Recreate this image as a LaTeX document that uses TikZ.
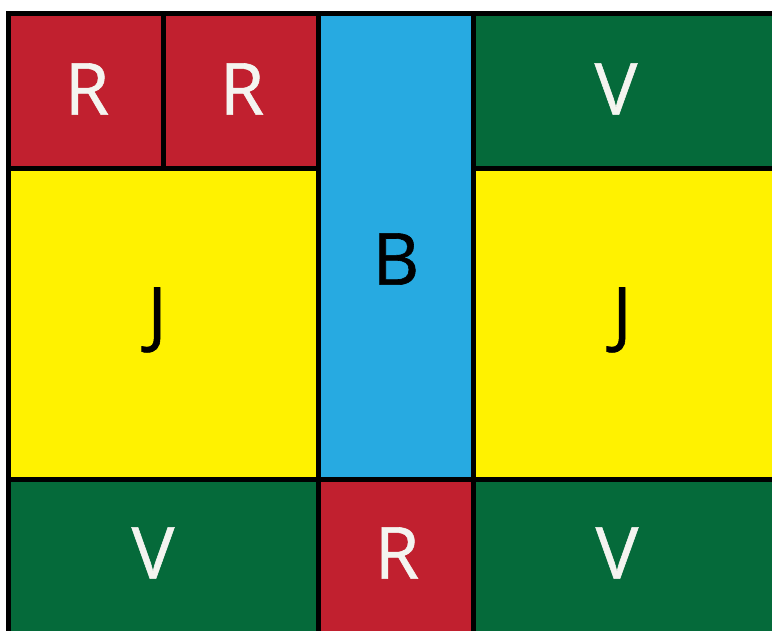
\documentclass[tikz,border=0pt]{standalone}
\usepackage{fontspec}
\setmainfont{Open Sans}
\newfontfamily\lblfont{Open Sans}[FakeBold=0.8]
\definecolor{cred}{HTML}{C1202F}
\definecolor{cblue}{HTML}{27AAE1}
\definecolor{cgreen}{HTML}{056A3A}
\definecolor{cyellow}{HTML}{FFF200}
\definecolor{ctext}{HTML}{F4F4F0}
\begin{document}
\begin{tikzpicture}[x=1pt,y=-1pt,
  lbl/.style={font=\lblfont\fontsize{72}{72}\selectfont, inner sep=0pt, anchor=center},
  wl/.style={lbl, text=ctext},
  bl/.style={lbl, text=black},
  grid/.style={line width=5pt, line join=miter, line cap=rect}]
\useasboundingbox (0,0) rectangle (772,630);
\clip (0,0) rectangle (772,630);
\fill[cred] (8.5,13.5) rectangle (318.5,168.5);
\fill[cblue] (318.5,13.5) rectangle (473.5,479.5);
\fill[cgreen] (473.5,13.5) rectangle (800,168.5);
\fill[cyellow] (8.5,168.5) rectangle (318.5,479.5);
\fill[cyellow] (473.5,168.5) rectangle (800,479.5);
\fill[cgreen] (8.5,479.5) rectangle (318.5,650);
\fill[cred] (318.5,479.5) rectangle (473.5,650);
\fill[cgreen] (473.5,479.5) rectangle (800,650);
\draw[grid] (8.5,650) -- (8.5,13.5) -- (800,13.5);
\draw[grid] (163.5,13.5) -- (163.5,168.5);
\draw[grid] (318.5,13.5) -- (318.5,650);
\draw[grid] (473.5,13.5) -- (473.5,650);
\draw[grid] (8.5,168.5) -- (318.5,168.5);
\draw[grid] (473.5,168.5) -- (800,168.5);
\draw[grid] (8.5,479.5) -- (800,479.5);
\node[wl] (r1) at (87,89) {R};
\node[wl] (r2) at (242,89) {R};
\node[wl] (v1) at (616,89) {V};
\node[bl] (b) at (396,259) {B};
\node[bl] (j1) at (157,320) {J};
\node[bl] (j2) at (622,320) {J};
\node[wl] (v2) at (153,553) {V};
\node[wl] (r3) at (397,553) {R};
\node[wl] (v3) at (617,553) {V};
\end{tikzpicture}
\end{document}
